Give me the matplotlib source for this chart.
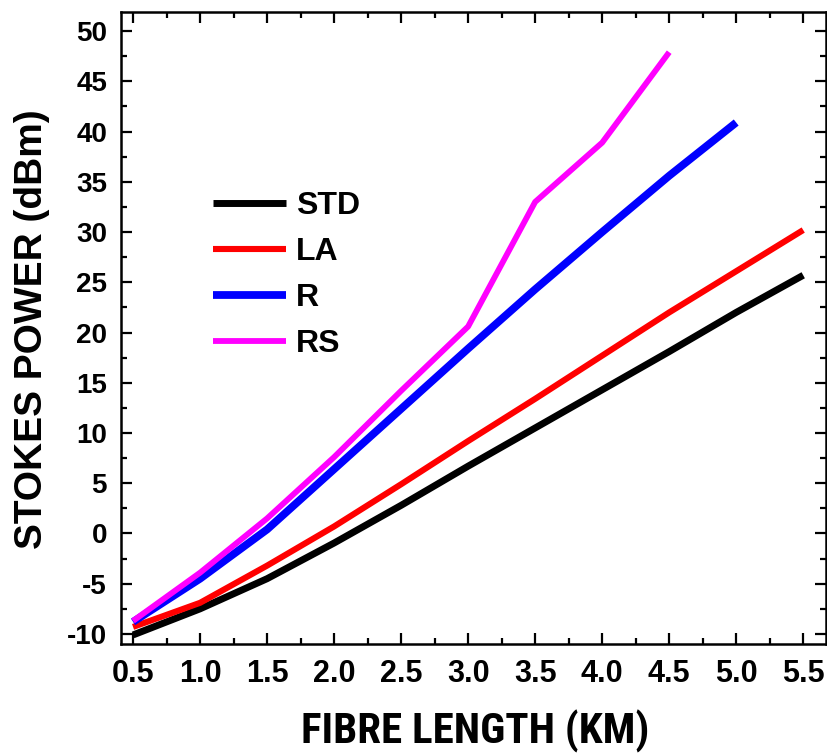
import matplotlib
matplotlib.use("Agg")
import matplotlib.pyplot as plt
from matplotlib.ticker import MultipleLocator
from matplotlib import font_manager

fiber_km = [0.5, 1.0, 1.5, 2.0, 2.5, 3.0, 3.5, 4.0, 4.5, 5.0, 5.5]
std_dbm = [-10.1, -7.5, -4.5, -0.95, 2.8, 6.7, 10.5, 14.3, 18.1, 22.0, 25.7]
la_dbm = [-9.3, -6.9, -3.2, 0.7, 4.9, 9.2, 13.4, 17.7, 22.0, 26.1, 30.2]
r_km = [0.5, 1.0, 1.5, 2.0, 2.5, 3.0, 3.5, 4.0, 4.5, 5.0]
r_dbm = [-8.8, -4.5, 0.4, 6.4, 12.4, 18.4, 24.3, 30.0, 35.6, 40.9]
rs_km = [0.5, 1.0, 1.5, 2.0, 2.5, 3.0, 3.5, 4.0, 4.5]
rs_dbm = [-8.7, -3.9, 1.5, 7.6, 14.2, 20.6, 33.0, 38.9, 47.9]
series_names = ["STD", "LA", "R", "RS"]
x_ticks = [0.5, 1.0, 1.5, 2.0, 2.5, 3.0, 3.5, 4.0, 4.5, 5.0, 5.5]
y_ticks = [-10, -5, 0, 5, 10, 15, 20, 25, 30, 35, 40, 45, 50]

names = {f.name for f in font_manager.fontManager.ttflist}
base = "Liberation Sans" if "Liberation Sans" in names else "DejaVu Sans"
narrow = None
for cand in ["Liberation Sans Narrow", "Arial Narrow", "Roboto Condensed", "Open Sans Condensed"]:
    if cand in names:
        narrow = cand
        break
plt.rcParams['font.family'] = [base, 'DejaVu Sans']
plt.rcParams['font.weight'] = 'bold'

fig = plt.figure(figsize=(8.27, 7.53), dpi=100)
ax = fig.add_axes([121/827, 1-644/753, 705/827, 632/753])

ax.plot(fiber_km, std_dbm, color='black', lw=5.0, label=series_names[0], solid_capstyle='butt')
ax.plot(fiber_km, la_dbm, color='#ff0000', lw=4.4, label=series_names[1], solid_capstyle='butt')
ax.plot(r_km, r_dbm, color='#0000ff', lw=5.6, label=series_names[2], solid_capstyle='butt')
ax.plot(rs_km, rs_dbm, color='#ff00ff', lw=4.2, label=series_names[3], solid_capstyle='butt')

ax.set_xlim(0.41, 5.67)
ax.set_ylim(-11.0, 51.9)
ax.set_xticks(x_ticks)
ax.set_xticklabels([f"{v:.1f}" for v in x_ticks])
ax.set_yticks(y_ticks)
ax.set_yticklabels([str(v) for v in y_ticks])
ax.xaxis.set_minor_locator(MultipleLocator(0.25))
ax.yaxis.set_minor_locator(MultipleLocator(2.5))

ax.tick_params(which='both', direction='in', top=True, right=True, width=1.6)
ax.tick_params(which='major', length=8)
ax.tick_params(which='minor', length=4)
ax.tick_params(axis='x', which='major', labelsize=22, pad=11)
ax.tick_params(axis='y', which='major', labelsize=20, pad=10)
for lab in ax.get_xticklabels() + ax.get_yticklabels():
    lab.set_fontweight('bold')
for s in ax.spines.values():
    s.set_linewidth(1.8)

if narrow:
    ax.set_xlabel("FIBRE LENGTH (KM)", fontsize=31, fontweight='bold', family=[narrow, 'DejaVu Sans'])
else:
    ax.set_xlabel("FIBRE LENGTH (KM)", fontsize=26, fontweight='bold')
ax.xaxis.set_label_coords(0.502, -0.104)
ax.set_ylabel("STOKES POWER (dBm)", fontsize=28, fontweight='bold')
ax.yaxis.set_label_coords(-0.100, 0.498)

leg = ax.legend(loc='upper left', bbox_to_anchor=(0.13, 0.716), frameon=False,
                fontsize=23, handlelength=2.3, handletextpad=0.3, labelspacing=0.5,
                borderpad=0, borderaxespad=0)
for t in leg.get_texts():
    t.set_fontweight('bold')

fig.savefig("out.png", dpi=100)
